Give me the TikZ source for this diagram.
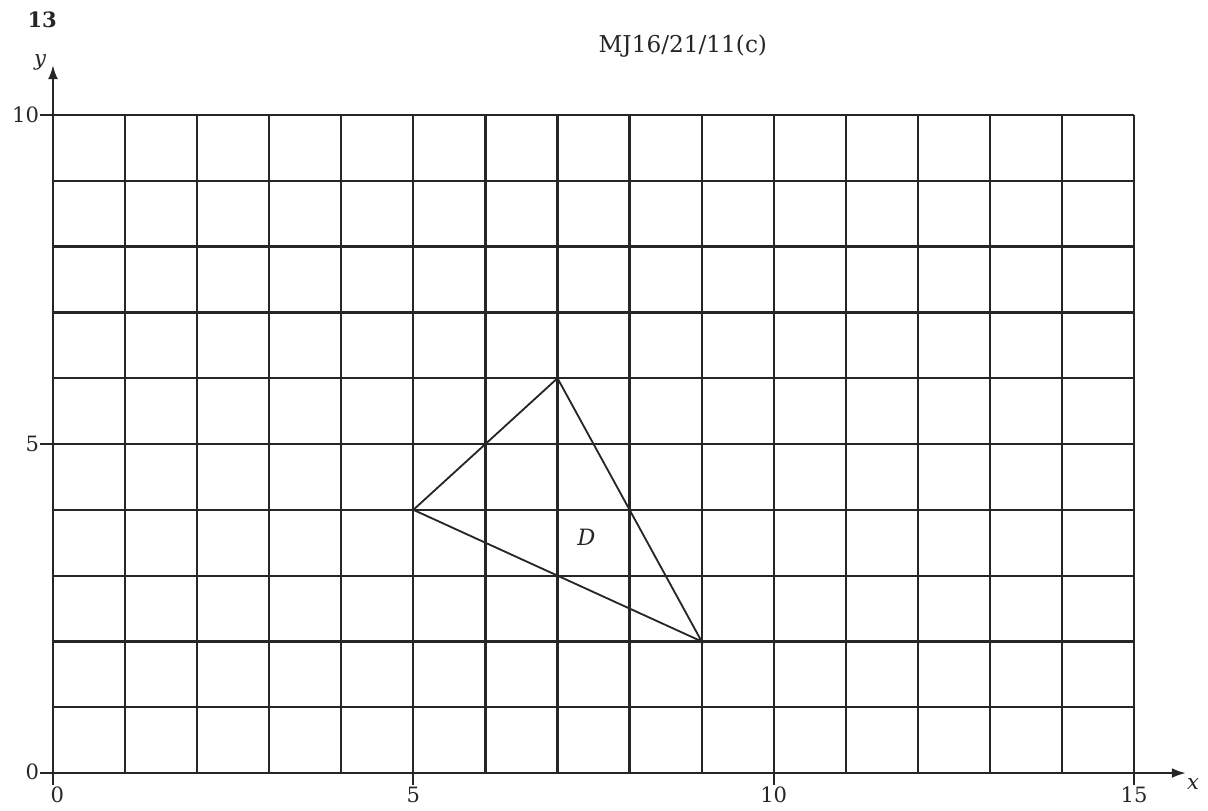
\documentclass[tikz,border=0pt]{standalone}
\usepackage{fontspec}
\setmainfont{DejaVu Serif}
\usetikzlibrary{arrows.meta}
\begin{document}
\begin{tikzpicture}[x=1.8017cm,y=1.645cm,
  gridline/.style={line width=1.6pt,black!85},
  axisline/.style={line width=1.6pt,black!85,-{Latex[length=10pt,width=7pt]}},
  tri/.style={line width=1.3pt,black!85},
  lbl/.style={font=\fontsize{15}{18}\selectfont,inner sep=1pt,text=black!85}]
\useasboundingbox (-0.7354,-0.5623) rectangle (16.026,11.748);
% grid
\foreach \i in {1,...,15} \draw[gridline] (\i,0) -- (\i,10);
\foreach \j in {1,...,10} \draw[gridline] (0,\j) -- (15,\j);
% axes
\coordinate (O) at (0,0);
\coordinate (xe) at (15.72,0);
\coordinate (ye) at (0,10.76);
\draw[axisline] (O) -- (xe);
\draw[axisline] (O) -- (ye);
% ticks
\foreach \v in {0,5,10} \draw[gridline] (-0.18,\v) -- (0,\v);
\foreach \v in {0,5,10,15} \draw[gridline] (\v,0) -- (\v,-0.18);
% tick labels
\node[lbl,anchor=east] (y0) at (-0.17,0.02) {0};
\node[lbl,anchor=east] (y5) at (-0.17,5.0) {5};
\node[lbl,anchor=east] (y10) at (-0.17,10.0) {10};
\node[lbl,anchor=north] (x0) at (0.06,-0.19) {0};
\node[lbl,anchor=north] (x5) at (5,-0.19) {5};
\node[lbl,anchor=north] (x10) at (10,-0.19) {10};
\node[lbl,anchor=north] (x15) at (15,-0.19) {15};
\node[lbl] (xl) at (15.82,-0.17) {\itshape x};
\node[lbl] (yl) at (-0.18,10.80) {\itshape y};
% triangle
\coordinate (A) at (5,4);
\coordinate (B) at (7,6);
\coordinate (C) at (9,2);
\draw[tri] (A) -- (B) -- (C) -- cycle;
\node[lbl,font=\fontsize{16}{19}\selectfont] (D) at (7.40,3.59) {\itshape D};
% header
\node[lbl,font=\fontsize{15}{18}\selectfont\bfseries] (num) at (-0.15,11.44) {13};
\node[lbl,font=\fontsize{16.5}{19}\selectfont] (code) at (8.74,11.05) {MJ16/21/11(c)};
\end{tikzpicture}
\end{document}
